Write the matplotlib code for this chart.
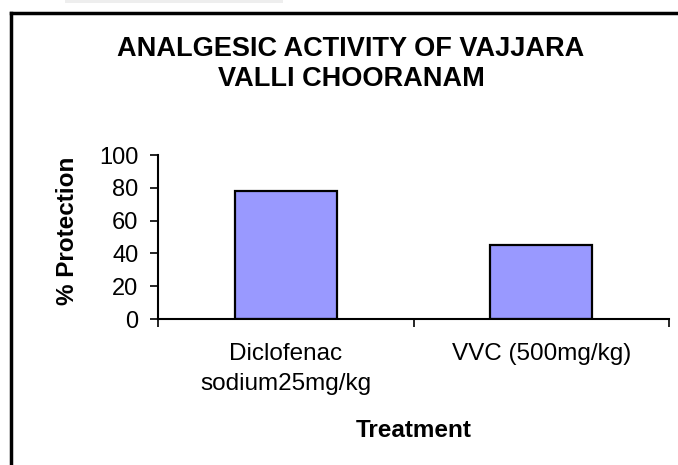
import matplotlib.pyplot as plt
from matplotlib.lines import Line2D
from matplotlib.patches import Rectangle

plt.rcParams["font.family"] = ["Liberation Sans", "DejaVu Sans"]

treatments = ["Diclofenac\nsodium25mg/kg", "VVC (500mg/kg)"]
protection = [78, 45]
yticks = [0, 20, 40, 60, 80, 100]

fig = plt.figure(figsize=(6.78, 4.65), dpi=100)
ax = fig.add_axes([158 / 678, 1 - 319 / 465, (669 - 158) / 678, (319 - 155) / 465])

x = range(len(treatments))
ax.bar(x, protection, width=0.4, color="#9999FF", edgecolor="black", linewidth=1.6)

ax.set_xlim(-0.5, len(treatments) - 0.5)
ax.set_ylim(0, 100)
ax.set_yticks(yticks)
ax.set_xticks([-0.5, 0.5, 1.5])
ax.set_xticklabels([])
ax.set_xticks(list(x), minor=True)
ax.set_xticklabels(treatments, minor=True, fontsize=17.5, linespacing=1.5)
ax.tick_params(axis="x", which="minor", length=0, pad=17)
ax.tick_params(axis="x", which="major", direction="out", length=6, width=1.2)
ax.tick_params(axis="y", direction="out", length=6, width=1.2, labelsize=17, pad=8)

for s in ["top", "right"]:
    ax.spines[s].set_visible(False)
ax.spines["left"].set_linewidth(1.5)
ax.spines["bottom"].set_linewidth(1.5)

ax.set_ylabel("% Protection", fontsize=17.5, fontweight="bold", va="center")
ax.yaxis.set_label_coords((68 - 158) / 511, (319 - 231) / 164)
ax.set_xlabel("Treatment", fontsize=17.5, fontweight="bold", va="center")
ax.xaxis.set_label_coords((414 - 158) / 511, (319 - 430) / 164)

fig.text(351 / 678, 1 - 64 / 465, "ANALGESIC ACTIVITY OF VAJJARA\nVALLI CHOORANAM",
         ha="center", va="center", fontsize=19.5, fontweight="bold", linespacing=1.23)

# outer frame (left and top edges visible)
fig.add_artist(Line2D([11 / 678, 11 / 678], [0, 1 - 13 / 465], color="black", lw=2.5))
fig.add_artist(Line2D([11 / 678, 1], [1 - 13 / 465, 1 - 13 / 465], color="black", lw=2.5))
# grey strip at top left from page crop
fig.add_artist(Rectangle((65 / 678, 1 - 3 / 465), (283 - 65) / 678, 3 / 465,
                         transform=fig.transFigure, color="#eeeeee", lw=0))

fig.savefig("out.png", dpi=100)
